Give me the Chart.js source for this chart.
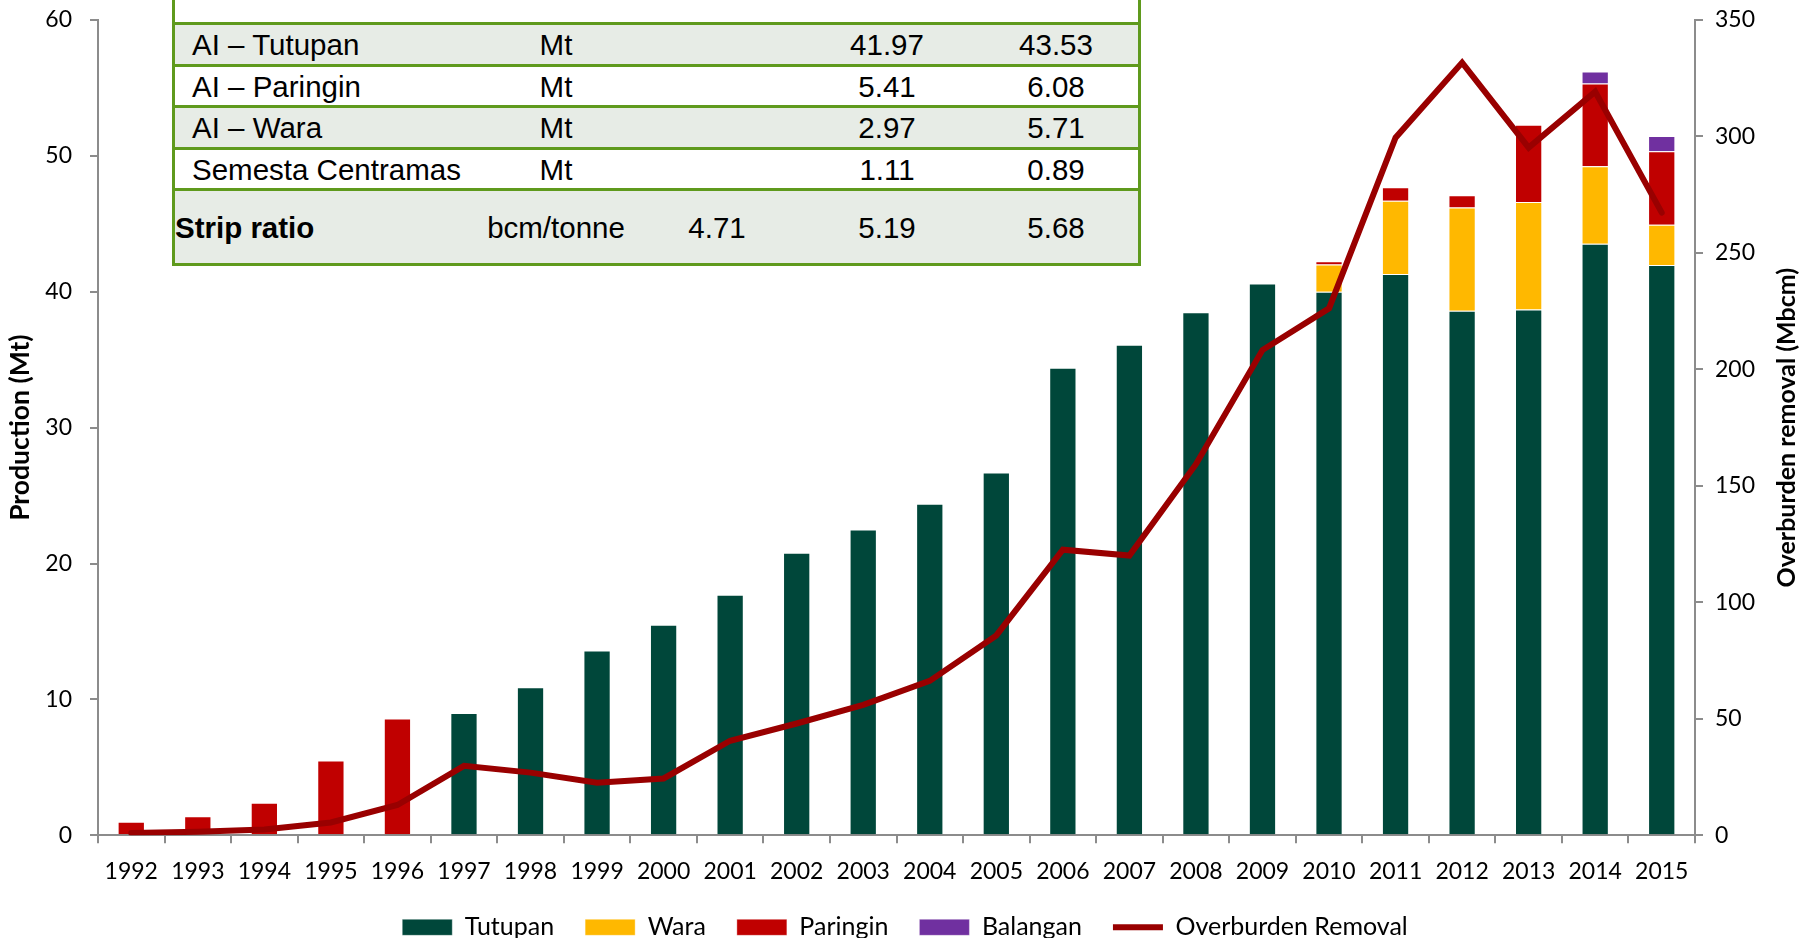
<!DOCTYPE html>
<html>
<head>
<meta charset="utf-8">
<title>Production and overburden removal</title>
<script src="https://cdn.jsdelivr.net/npm/chart.js@4.4.1/dist/chart.umd.min.js"></script>
<style>
  body { margin: 0; background: #fff; }
  #wrap { position: relative; width: 1810px; height: 938px; overflow: hidden; }
  #chart { position: absolute; left: 0; top: 0; }
  #table { position: absolute; left: 172px; top: 0; width: 969px; height: 266px;
           font-family: 'Liberation Sans', Arial, sans-serif; font-size: 29.5px; color: #000; }
  .row { position: absolute; left: 0; width: 969px; box-sizing: border-box; background: #fff;
         border-left: 3px solid #5F9A1D; border-right: 3px solid #5F9A1D; border-bottom: 3px solid #5F9A1D; }
  .row.shade { background: #E7ECE6; }
  .cell { position: absolute; top: calc(50% + 1px); transform: translate(-50%, -50%); white-space: nowrap; }
  .cell.first { transform: translate(0, -50%); }
  .cell.bold { font-weight: bold; }
</style>
</head>
<body>
<div id="wrap">
  <canvas id="chart" width="1810" height="938"></canvas>
  <div id="table"></div>
</div>
<script>
'use strict';

// ------- chart data ------- //
const years = ['1992', '1993', '1994', '1995', '1996', '1997', '1998', '1999', '2000', '2001', '2002', '2003',
  '2004', '2005', '2006', '2007', '2008', '2009', '2010', '2011', '2012', '2013', '2014', '2015'];

// production, Mt (left axis)
const tutupan = [null, null, null, null, null, 9.0, 10.9, 13.6, 15.5, 17.7, 20.8, 22.5,
  24.4, 26.7, 34.4, 36.1, 38.5, 40.6, 40.0, 41.3, 38.6, 38.7, 43.53, 41.97];
const wara = [null, null, null, null, null, null, null, null, null, null, null, null,
  null, null, null, null, null, null, 2.0, 5.4, 7.6, 7.9, 5.71, 2.97];
const paringin = [1.0, 1.4, 2.4, 5.5, 8.6, null, null, null, null, null, null, null,
  null, null, null, null, null, null, 0.25, 1.0, 0.9, 5.7, 6.08, 5.41];
const balangan = [null, null, null, null, null, null, null, null, null, null, null, null,
  null, null, null, null, null, null, null, null, null, null, 0.89, 1.11];

// overburden removal, Mbcm (right axis)
const overburden = [1, 1.5, 2.5, 5.5, 13, 29.8, 26.9, 22.6, 24.4, 40.6, 48, 56,
  66.3, 85.8, 122.6, 120.1, 159.3, 208.3, 226.2, 299.5, 331.7, 295.2, 319.2, 267.3];

// ------- table data ------- //
const tableLabels = ['AI \u2013 Tutupan', 'AI \u2013 Paringin', 'AI \u2013 Wara', 'Semesta Centramas', 'Strip ratio'];
const tableUnits = ['Mt', 'Mt', 'Mt', 'Mt', 'bcm/tonne'];
const tableColA = ['', '', '', '', '4.71'];
const tableColB = ['41.97', '5.41', '2.97', '1.11', '5.19'];
const tableColC = ['43.53', '6.08', '5.71', '0.89', '5.68'];

// ------- table overlay ------- //
const tableEl = document.getElementById('table');
const rowBoxes = [[24.5, 42], [66.5, 41], [107.5, 42], [149.5, 41], [190.5, 75]];
const colCenters = [381, 542, 712, 881];

const header = document.createElement('div');
header.className = 'row';
header.style.top = '-10px';
header.style.height = '34.5px';
tableEl.appendChild(header);

tableLabels.forEach((label, i) => {
  const row = document.createElement('div');
  row.className = 'row' + (i % 2 === 0 ? ' shade' : '');
  row.style.top = rowBoxes[i][0] + 'px';
  row.style.height = rowBoxes[i][1] + 'px';

  const isStrip = i === tableLabels.length - 1;
  const first = document.createElement('span');
  first.className = 'cell first' + (isStrip ? ' bold' : '');
  first.style.left = (isStrip ? 0 : 17) + 'px';
  first.textContent = label;
  row.appendChild(first);

  [tableUnits[i], tableColA[i], tableColB[i], tableColC[i]].forEach((txt, j) => {
    const cell = document.createElement('span');
    cell.className = 'cell';
    cell.style.left = colCenters[j] + 'px';
    cell.textContent = txt;
    row.appendChild(cell);
  });
  tableEl.appendChild(row);
});

// ------- chart ------- //
const axisGray = '#8C8C8C';
const tickFont = { family: 'Lato', size: 23 };

const barStyle = {
  type: 'bar',
  yAxisID: 'y',
  stack: 'production',
  categoryPercentage: 1,
  barPercentage: 0.41,
  borderWidth: 1,
  borderColor: 'rgba(255, 255, 255, 0.35)',
  pointStyle: 'rect',
  order: 1,
};

// keep the plot area where the y labels would otherwise push it
function fitY(width) {
  return (scale) => {
    scale.width = width;
    scale.paddingTop = 0;
    scale.paddingBottom = 0;
  };
}

// title of the right axis reads bottom-to-top, so draw it by hand
const rightTitle = {
  id: 'rightTitle',
  afterDraw(chart) {
    const { ctx, chartArea } = chart;
    ctx.save();
    ctx.translate(chart.scales.y1.right - 23, (chartArea.top + chartArea.bottom) / 2);
    ctx.rotate(-Math.PI / 2);
    ctx.font = 'bold 25px Lato';
    ctx.fillStyle = '#000';
    ctx.textAlign = 'center';
    ctx.textBaseline = 'middle';
    ctx.fillText('Overburden removal (Mbcm)', 0, 0);
    ctx.restore();
  },
};

new Chart(document.getElementById('chart'), {
  data: {
    labels: years,
    datasets: [
      { ...barStyle, label: 'Tutupan', data: tutupan, backgroundColor: '#00473A' },
      { ...barStyle, label: 'Wara', data: wara, backgroundColor: '#FFB800' },
      { ...barStyle, label: 'Paringin', data: paringin, backgroundColor: '#C00000' },
      { ...barStyle, label: 'Balangan', data: balangan, backgroundColor: '#7030A0' },
      {
        type: 'line',
        label: 'Overburden Removal',
        data: overburden,
        yAxisID: 'y1',
        borderColor: '#990000',
        backgroundColor: '#990000',
        borderWidth: 6,
        borderCapStyle: 'round',
        borderJoinStyle: 'miter',
        pointRadius: 0,
        tension: 0,
        fill: false,
        pointStyle: 'line',
        order: 0,
      },
    ],
  },
  options: {
    responsive: false,
    animation: false,
    layout: { padding: { top: 20, bottom: -11.8, left: 0, right: 0 } },
    scales: {
      x: {
        stacked: true,
        afterFit: (scale) => { scale.height = 48.5; },
        grid: { drawOnChartArea: false, drawTicks: true, tickLength: 8, color: axisGray, lineWidth: 2 },
        border: { color: axisGray, width: 2 },
        ticks: { font: tickFont, color: '#000', padding: 14, maxRotation: 0, autoSkip: false },
      },
      y: {
        position: 'left',
        stacked: true,
        min: 0,
        max: 60,
        afterFit: fitY(98),
        grid: { drawOnChartArea: false, drawTicks: true, tickLength: 8, color: axisGray, lineWidth: 2 },
        border: { color: axisGray, width: 2 },
        ticks: { stepSize: 10, font: tickFont, color: '#000', padding: 18 },
        title: {
          display: true,
          text: 'Production (Mt)',
          color: '#000',
          font: { family: 'Lato', size: 26.5, weight: 'bold' },
          padding: { top: 5, bottom: 0 },
        },
      },
      y1: {
        position: 'right',
        min: 0,
        max: 350,
        afterFit: fitY(115),
        grid: { drawOnChartArea: false, drawTicks: true, tickLength: 8, color: axisGray, lineWidth: 2 },
        border: { color: axisGray, width: 2 },
        ticks: { stepSize: 50, font: tickFont, color: '#000', padding: 12 },
      },
    },
    plugins: {
      legend: {
        display: true,
        position: 'bottom',
        labels: {
          usePointStyle: true,
          pointStyleWidth: 50,
          boxHeight: 16,
          padding: 31,
          color: '#000',
          font: { family: 'Lato', size: 25 },
          sort: (a, b) => a.datasetIndex - b.datasetIndex,
        },
      },
      tooltip: { enabled: true },
    },
  },
  plugins: [rightTitle],
});
</script>
</body>
</html>
